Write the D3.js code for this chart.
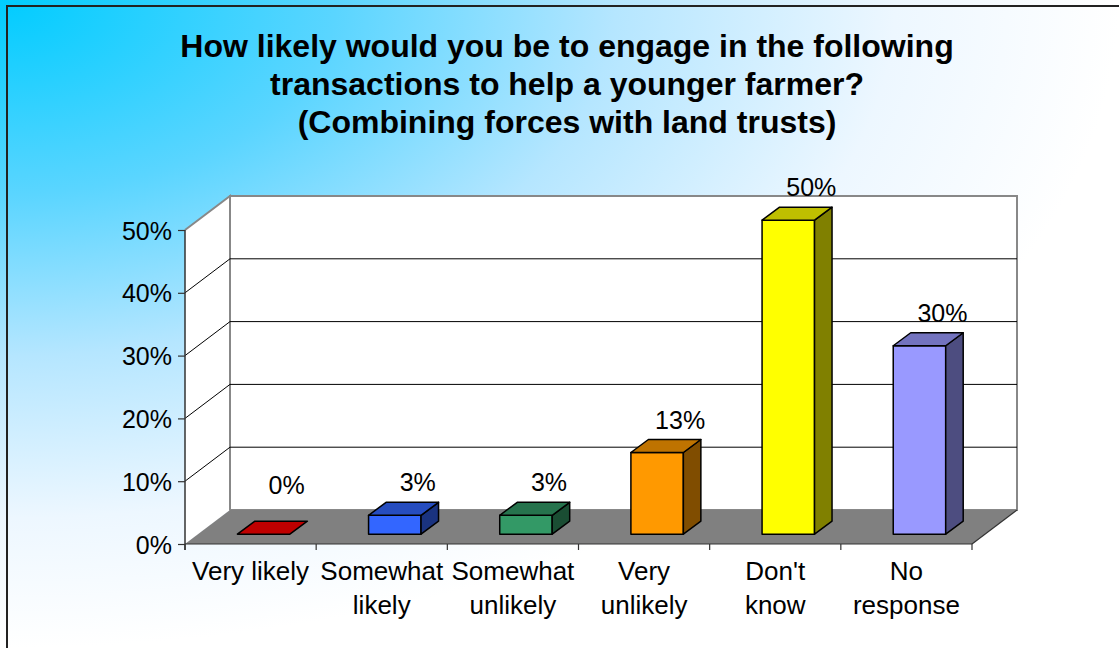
<!DOCTYPE html>
<html>
<head>
<meta charset="utf-8">
<script src="https://cdn.jsdelivr.net/npm/d3@7"></script>
<style>
  html, body { margin: 0; padding: 0; background: #fff; }
  svg { display: block; font-family: "Liberation Sans", Arial, sans-serif; }
</style>
</head>
<body>
<svg id="chart" width="1119" height="648"></svg>
<script>
// ---- data ----
const titleLines = [
  "How likely would you be to engage in the following",
  "transactions to help a younger farmer?",
  "(Combining forces with land trusts)"
];
const categories = [
  ["Very likely"],
  ["Somewhat", "likely"],
  ["Somewhat", "unlikely"],
  ["Very", "unlikely"],
  ["Don't", "know"],
  ["No", "response"]
];
const values = [0, 3, 3, 13, 50, 30];
const yTicks = [0, 10, 20, 30, 40, 50];
const frontColors = ["#FF0000", "#3366FF", "#339966", "#FF9900", "#FFFF00", "#9999FF"];

// ---- layout ----
const W = 1119, H = 648;
const plot = { x0: 185, x1: 972, y0: 544, y1: 230 };
const depth = { dx: 45, dy: 34 };        // floor/wall depth
const barDepth = { dx: 17.5, dy: 13 };   // bar depth
const barShift = 0.29;                   // bar front position within depth
const barFrac = 0.4;                     // bar width / band width

const svg = d3.select("#chart");
const defs = svg.append("defs");
const grad = defs.append("radialGradient")
  .attr("id", "bg").attr("cx", 0).attr("cy", 0).attr("r", 1).attr("fx", 0).attr("fy", 0);
[[0, "#00CCFF"], [0.3, "#5AD5FF"], [0.55, "#B5E6FF"], [0.8, "#EDF7FF"], [1, "#FFFFFF"]]
  .forEach(([o, c]) => grad.append("stop").attr("offset", o).attr("stop-color", c));

svg.append("rect").attr("width", W).attr("height", H).attr("fill", "url(#bg)");
svg.append("path").attr("d", `M7,${H + 2} L7,6 L${W + 2},6`)
  .attr("fill", "none").attr("stroke", "#222").attr("stroke-width", 2);

// title
const title = svg.append("text")
  .attr("x", 567).attr("text-anchor", "middle")
  .attr("font-size", 32).attr("font-weight", "bold").attr("fill", "#000");
titleLines.forEach((t, i) => title.append("tspan").attr("x", 567).attr("y", 57 + i * 38).text(t));

// scales
const x = d3.scaleBand().domain(d3.range(categories.length)).range([plot.x0, plot.x1]).padding(0);
const y = d3.scaleLinear().domain([0, 50]).range([plot.y0, plot.y1]);
const ymax = d3.max(yTicks);

// back wall
const bw = { x0: plot.x0 + depth.dx, x1: plot.x1 + depth.dx, yb: plot.y0 - depth.dy, yt: y(ymax) - depth.dy };
svg.append("rect").attr("x", bw.x0).attr("y", bw.yt).attr("width", bw.x1 - bw.x0).attr("height", bw.yb - bw.yt)
  .attr("fill", "#fff").attr("stroke", "#888").attr("stroke-width", 2);
// side wall
svg.append("path")
  .attr("d", `M${plot.x0},${plot.y0} L${plot.x0},${y(ymax)} L${bw.x0},${bw.yt} L${bw.x0},${bw.yb} Z`)
  .attr("fill", "#fff").attr("stroke", "none");
svg.append("path")
  .attr("d", `M${plot.x0},${y(ymax)} L${bw.x0},${bw.yt} L${bw.x0},${bw.yb}`)
  .attr("fill", "none").attr("stroke", "#888").attr("stroke-width", 2);

// gridlines
yTicks.filter(t => t > 0 && t < ymax).forEach(t => {
  svg.append("path")
    .attr("d", `M${plot.x0},${y(t)} L${bw.x0},${y(t) - depth.dy} L${bw.x1},${y(t) - depth.dy}`)
    .attr("fill", "none").attr("stroke", "#000").attr("stroke-width", 1);
});

// floor
svg.append("path")
  .attr("d", `M${plot.x0},${plot.y0} L${plot.x1},${plot.y0} L${bw.x1},${bw.yb} L${bw.x0},${bw.yb} Z`)
  .attr("fill", "#808080").attr("stroke", "none");
svg.append("path")
  .attr("d", `M${plot.x1},${plot.y0} L${bw.x1},${bw.yb}`)
  .attr("stroke", "#333").attr("stroke-width", 1.2);

// bars
const shade = (c, k) => { const r = d3.rgb(c); return d3.rgb(r.r * k, r.g * k, r.b * k).formatHex(); };
const bars = svg.append("g").attr("stroke", "#000").attr("stroke-width", 1.5).attr("stroke-linejoin", "round");
categories.forEach((c, i) => {
  const bwid = x.bandwidth() * barFrac;
  const cx = x(i) + x.bandwidth() / 2 + depth.dx * barShift;
  const xl = cx - bwid / 2, xr = cx + bwid / 2;
  const yb = plot.y0 - depth.dy * barShift;
  const yt = yb - (plot.y0 - y(values[i]));
  const ddx = barDepth.dx, ddy = barDepth.dy;
  const col = frontColors[i];
  if (values[i] > 0) {
    bars.append("path").attr("d", `M${xl},${yb} L${xr},${yb} L${xr},${yt} L${xl},${yt} Z`).attr("fill", col);
    bars.append("path").attr("d", `M${xr},${yb} L${xr + ddx},${yb - ddy} L${xr + ddx},${yt - ddy} L${xr},${yt} Z`).attr("fill", shade(col, 0.5));
  }
  bars.append("path").attr("d", `M${xl},${yt} L${xr},${yt} L${xr + ddx},${yt - ddy} L${xl + ddx},${yt - ddy} Z`).attr("fill", shade(col, 0.75));

  // data label
  const ly = yb - (plot.y0 - y(Math.max(values[i], 2.5))) - 24;
  svg.append("text").attr("x", cx + 23).attr("y", ly).attr("text-anchor", "middle")
    .attr("font-size", 25).attr("fill", "#000").text(values[i] + "%");
});

// y axis
const yAxis = d3.axisLeft(y).tickValues(yTicks).tickFormat(d => d + "%").tickSize(7).tickPadding(6);
const gy = svg.append("g").attr("transform", `translate(${plot.x0},0)`).call(yAxis);
gy.select(".domain").attr("stroke", "#333").attr("stroke-width", 1.5).attr("d", `M0,${y(ymax)} V${plot.y0 + 6}`);
gy.selectAll(".tick line").attr("stroke", "#333").attr("stroke-width", 1.2);
gy.selectAll(".tick text").attr("font-size", 25).attr("fill", "#000")
  .attr("font-family", '"Liberation Sans", Arial, sans-serif').attr("dy", "0.36em");

// x axis
const gx = svg.append("g");
gx.append("line").attr("x1", plot.x0).attr("x2", plot.x1).attr("y1", plot.y0).attr("y2", plot.y0)
  .attr("stroke", "#333").attr("stroke-width", 1.2);
d3.range(categories.length + 1).forEach(i => {
  const xx = i < categories.length ? x(i) : plot.x1;
  gx.append("line").attr("x1", xx).attr("x2", xx).attr("y1", plot.y0).attr("y2", plot.y0 + 6)
    .attr("stroke", "#333").attr("stroke-width", 1.2);
});
categories.forEach((lines, i) => {
  const t = gx.append("text").attr("text-anchor", "middle").attr("font-size", 26).attr("fill", "#000");
  lines.forEach((l, j) => t.append("tspan").attr("x", x(i) + x.bandwidth() / 2).attr("y", 580 + j * 34).text(l));
});
</script>
</body>
</html>
